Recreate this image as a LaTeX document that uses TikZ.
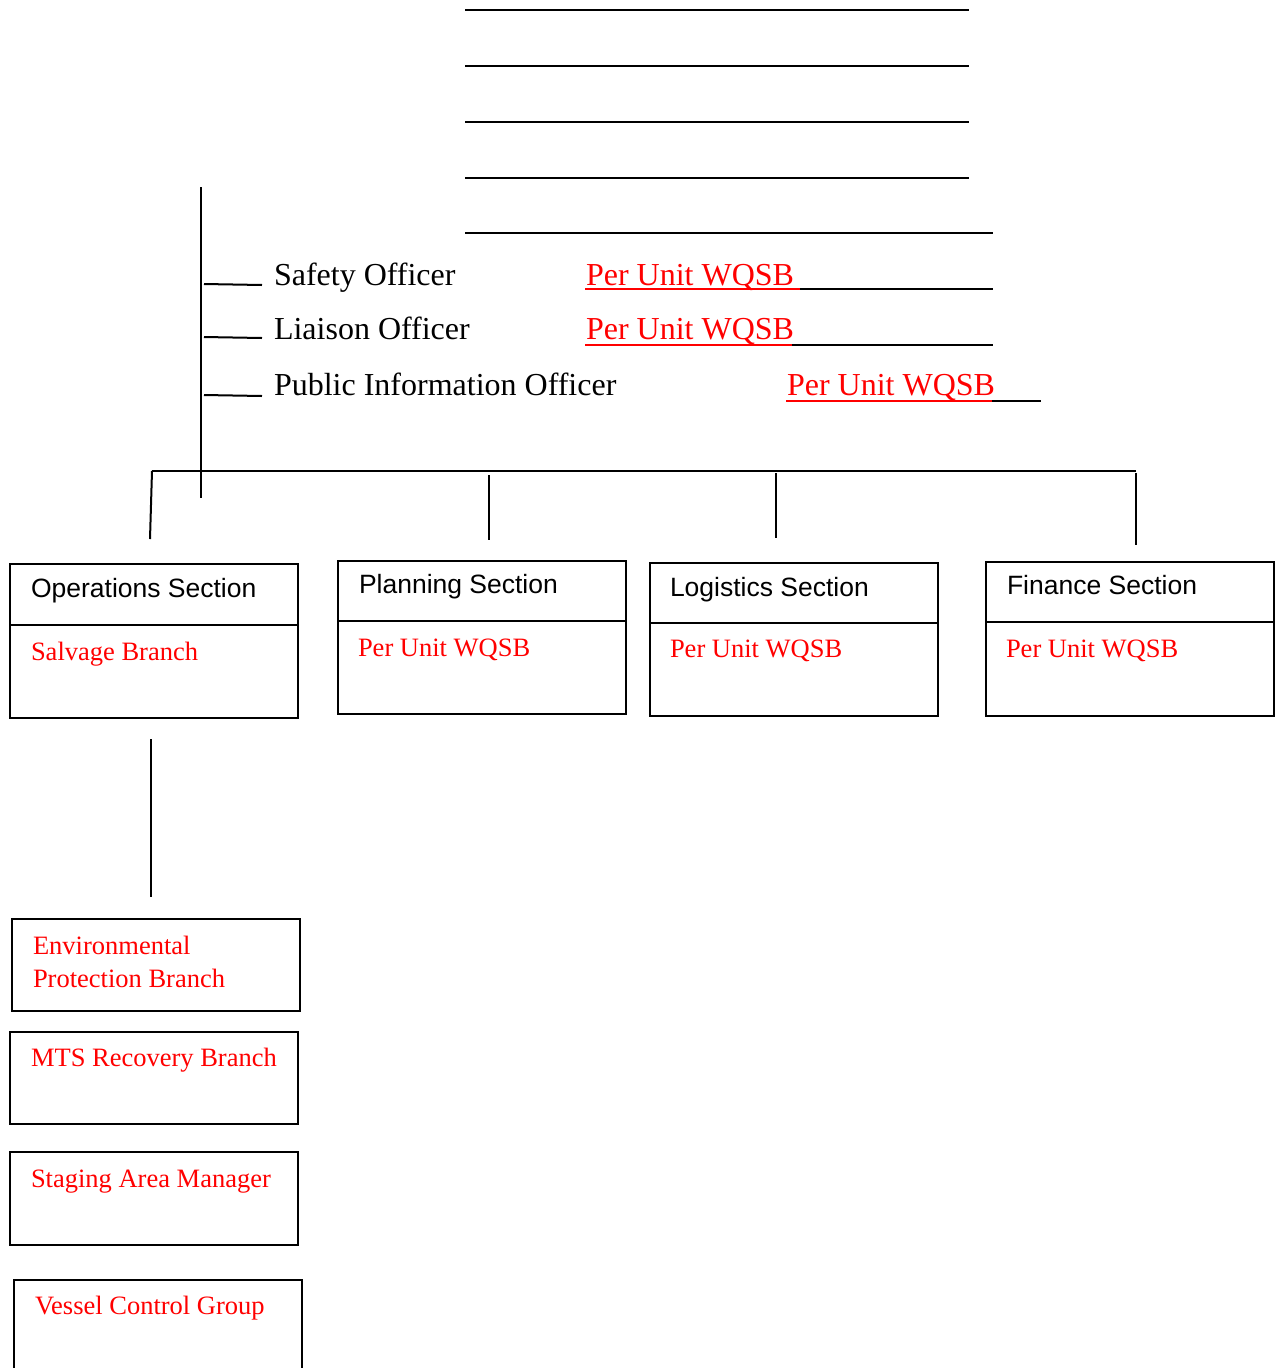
\documentclass[tikz,border=0pt]{standalone}
\usepackage{fontspec}
\setmainfont{Liberation Serif}
\setsansfont{Liberation Sans}
\usetikzlibrary{calc}
\definecolor{wred}{RGB}{255,0,0}
\begin{document}
\begin{tikzpicture}[x=1pt,y=-1pt,line width=2pt,
  box/.style={draw,line width=2pt,minimum width=288pt,anchor=north west,inner sep=0pt},
  off/.style={font=\fontsize{32}{38}\selectfont,anchor=base west,inner sep=0pt},
  offred/.style={off,text=wred},
  sec/.style={font=\sffamily\fontsize{26.5}{32}\selectfont,anchor=base west,inner sep=0pt},
  unit/.style={font=\fontsize{26.5}{33}\selectfont,text=wred,anchor=base west,inner sep=0pt,align=left}]
\useasboundingbox (0,0) rectangle (1277,1368);

% blank signature lines at top
\coordinate (l1a) at (465,10);  \coordinate (l1b) at (969,10);
\coordinate (l2a) at (465,66);  \coordinate (l2b) at (969,66);
\coordinate (l3a) at (465,122); \coordinate (l3b) at (969,122);
\coordinate (l4a) at (465,178); \coordinate (l4b) at (969,178);
\coordinate (l5a) at (465,233); \coordinate (l5b) at (993,233);
\draw (l1a) -- (l1b);
\draw (l2a) -- (l2b);
\draw (l3a) -- (l3b);
\draw (l4a) -- (l4b);
\draw (l5a) -- (l5b);

% main vertical trunk
\coordinate (trunkTop) at (201,187);
\coordinate (trunkBot) at (201,498);
\draw (trunkTop) -- (trunkBot);

% staff officers
\coordinate (s1a) at (204,284); \coordinate (s1b) at (262,285);
\coordinate (s2a) at (204,337); \coordinate (s2b) at (262,338);
\coordinate (s3a) at (204,395); \coordinate (s3b) at (262,396);
\draw (s1a) -- (s1b);
\draw (s2a) -- (s2b);
\draw (s3a) -- (s3b);
\node[off] (safety) at (273,285) {Safety Officer};
\node[off] (liaison) at (273,339) {Liaison Officer};
\node[off] (pio) at (273,395) {Public Information Officer};
\node[offred] (safetyU) at (585,285) {Per Unit WQSB};
\node[offred] (liaisonU) at (585,339) {Per Unit WQSB};
\node[offred] (pioU) at (786,395) {Per Unit WQSB};
\coordinate (u1a) at (585,289); \coordinate (u1m) at (800,289); \coordinate (u1b) at (993,289);
\coordinate (u2a) at (585,345); \coordinate (u2m) at (792,345); \coordinate (u2b) at (993,345);
\coordinate (u3a) at (786,401); \coordinate (u3m) at (992,401); \coordinate (u3b) at (1041,401);
\draw[wred] (u1a) -- (u1m); \draw (u1m) -- (u1b);
\draw[wred] (u2a) -- (u2m); \draw (u2m) -- (u2b);
\draw[wred] (u3a) -- (u3m); \draw (u3m) -- (u3b);

% horizontal bar and drops
\coordinate (barL) at (152,471);
\coordinate (barR) at (1136,471);
\draw (barL) -- (barR);
\coordinate (d1a) at (152,471); \coordinate (d1b) at (150,539);
\coordinate (d2a) at (489,475); \coordinate (d2b) at (489,540);
\coordinate (d3a) at (776,473); \coordinate (d3b) at (776,538);
\coordinate (d4a) at (1136,473); \coordinate (d4b) at (1136,545);
\draw (d1a) -- (d1b);
\draw (d2a) -- (d2b);
\draw (d3a) -- (d3b);
\draw (d4a) -- (d4b);

% section boxes
\node[box,minimum height=154pt] (ops) at (9,563) {};
\draw ($(ops.north west)+(0,62)$) -- ($(ops.north east)+(0,62)$);
\node[sec] (opsT) at (30,597) {Operations Section};
\node[unit] (opsU) at (30,660) {Salvage Branch};

\node[box,minimum height=153pt] (plan) at (337,560) {};
\draw ($(plan.north west)+(0,61)$) -- ($(plan.north east)+(0,61)$);
\node[sec] (planT) at (358,593) {Planning Section};
\node[unit] (planU) at (357,656) {Per Unit WQSB};

\node[box,minimum height=153pt] (log) at (649,562) {};
\draw ($(log.north west)+(0,61)$) -- ($(log.north east)+(0,61)$);
\node[sec] (logT) at (669,596) {Logistics Section};
\node[unit] (logU) at (669,657) {Per Unit WQSB};

\node[box,minimum height=154pt] (fin) at (985,561) {};
\draw ($(fin.north west)+(0,61)$) -- ($(fin.north east)+(0,61)$);
\node[sec] (finT) at (1006,594) {Finance Section};
\node[unit] (finU) at (1005,657) {Per Unit WQSB};

% operations branch line
\coordinate (opsDownA) at (151,739);
\coordinate (opsDownB) at (151,897);
\draw (opsDownA) -- (opsDownB);

% branch boxes
\node[box,minimum height=92pt] (env) at (11,918) {};
\node[unit] (envT) at (32,987) {Environmental\\Protection Branch};

\node[box,minimum height=92pt] (mts) at (9,1031) {};
\node[unit] (mtsT) at (30,1066) {MTS Recovery Branch};

\node[box,minimum height=93pt] (stage) at (9,1151) {};
\node[unit] (stageT) at (30,1187) {Staging Area Manager};

\node[box,minimum height=130pt] (vessel) at (13,1279) {};
\node[unit] (vesselT) at (34,1314) {Vessel Control Group};
\end{tikzpicture}
\end{document}
